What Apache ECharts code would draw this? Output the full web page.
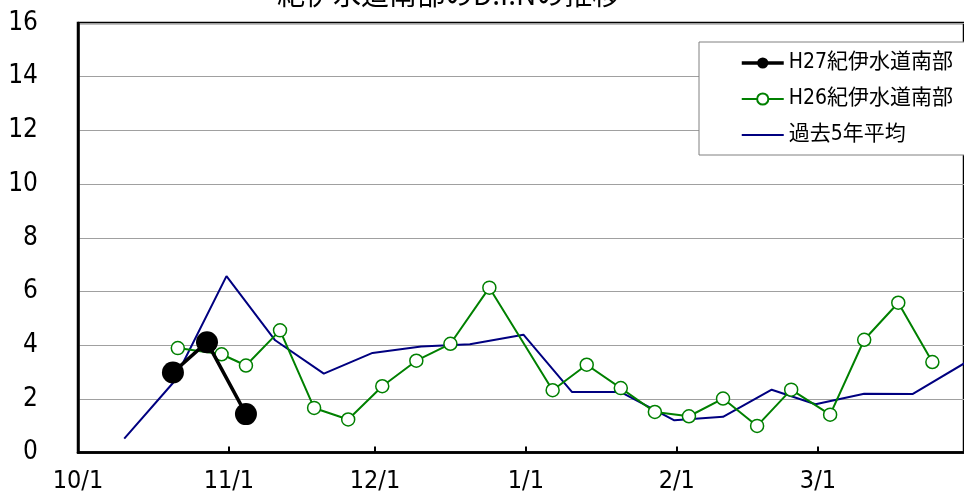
<!DOCTYPE html>
<html>
<head>
<meta charset="utf-8">
<script src="https://cdn.jsdelivr.net/npm/echarts@6/dist/echarts.min.js"></script>
<style>
  html, body { margin: 0; padding: 0; background: #fff; }
  #chart { width: 964px; height: 496px; }
</style>
</head>
<body>
<div id="chart"></div>
<script>
// ---- data (month/day, plotted on the Oct 2015 – Mar 2016 season axis) ----
const titleText = '紀伊水道南部のD.I.Nの推移';
const seriesNames = ['H27紀伊水道南部', 'H26紀伊水道南部', '過去5年平均'];

const h27Dates = ['10/20', '10/27', '11/4'];
const h27Values = [2.98, 4.11, 1.43];

const h26Dates = ['10/21', '10/30', '11/4', '11/11', '11/18', '11/25', '12/2', '12/9', '12/16', '12/24',
  '1/6', '1/13', '1/20', '1/27', '2/3', '2/10', '2/17', '2/24', '3/3', '3/10', '3/17', '3/24'];
const h26Values = [3.89, 3.66, 3.24, 4.55, 1.66, 1.23, 2.47, 3.42, 4.05, 6.14,
  2.32, 3.27, 2.40, 1.51, 1.35, 2.01, 0.99, 2.34, 1.41, 4.20, 5.58, 3.37];

const avgDates = ['10/10', '10/20', '10/31', '11/10', '11/20', '11/30', '12/10', '12/20', '12/31',
  '1/10', '1/20', '1/31', '2/10', '2/20', '2/29', '3/10', '3/20', '3/31'];
const avgValues = [0.52, 2.59, 6.57, 4.18, 2.94, 3.71, 3.95, 4.03, 4.39,
  2.25, 2.25, 1.20, 1.33, 2.34, 1.80, 2.19, 2.18, 3.37];

const axisStart = '10/1';
const axisEnd = '3/31';
const yTicks = [0, 2, 4, 6, 8, 10, 12, 14, 16];

// ---- helpers ----
// season axis: Oct–Dec in 2015, Jan–Mar in 2016; points centred in their day (like a date axis)
function toTime(md, half) {
  const [m, d] = md.split('/').map(Number);
  const y = m >= 10 ? 2015 : 2016;
  return new Date(y, m - 1, d, half ? 12 : 0).getTime();
}
function pairs(dates, vals) {
  return dates.map((d, i) => [toTime(d, true), vals[i]]);
}

const numFont = "'DejaVu Sans Condensed', 'Noto Sans CJK JP', sans-serif";
const jpFont = "'DejaVu Sans Condensed', 'Noto Sans CJK JP', sans-serif";

const chart = echarts.init(document.getElementById('chart'), null, { renderer: 'canvas' });
chart.setOption({
  animation: false,
  backgroundColor: '#fff',
  title: {
    text: titleText,
    left: 277,
    top: -20,
    padding: 0,
    textStyle: { fontFamily: "'Noto Sans CJK JP', sans-serif", fontSize: 28, fontWeight: 'normal', color: '#000' }
  },
  grid: {
    left: 78, right: 0, top: 23, bottom: 43.5,
    show: true, borderColor: '#000', borderWidth: 2.5, backgroundColor: 'transparent'
  },
  legend: {
    data: [
      { name: seriesNames[0], lineStyle: { width: 3.5, color: '#000' } },
      { name: seriesNames[1], lineStyle: { width: 2, color: '#008000' } },
      { name: seriesNames[2], icon: 'path://M0,0 L42,0 L42,2 L0,2 Z', itemStyle: { color: '#000080' } }
    ],
    orient: 'vertical',
    left: 699,
    top: 42,
    padding: [10, 30, 9, 41],
    itemWidth: 42,
    itemHeight: 14,
    itemGap: 14,
    backgroundColor: '#fff',
    borderColor: '#808080',
    borderWidth: 1,
    borderRadius: 0,
    textStyle: { fontFamily: jpFont, fontSize: 21, lineHeight: 22, color: '#000' }
  },
  xAxis: {
    type: 'time',
    min: toTime(axisStart, false),
    max: toTime(axisEnd, false),
    splitNumber: 6,
    minInterval: 28 * 86400000,
    maxInterval: 31 * 86400000,
    axisLine: { show: true, lineStyle: { color: '#000', width: 2.5 } },
    axisTick: { show: true, inside: true, length: 6, lineStyle: { color: '#000', width: 2 } },
    splitLine: { show: false },
    axisLabel: {
      margin: 16,
      fontFamily: numFont,
      fontSize: 25,
      color: '#000',
      hideOverlap: false,
      formatter: function (v) {
        const dt = new Date(v);
        return (dt.getMonth() + 1) + '/' + dt.getDate();
      }
    }
  },
  yAxis: {
    type: 'value',
    min: yTicks[0],
    max: yTicks[yTicks.length - 1],
    interval: 2,
    axisLine: { show: true, lineStyle: { color: '#000', width: 2.5 } },
    axisTick: { show: false },
    splitLine: { show: true, lineStyle: { color: '#a0a0a0', width: 1 } },
    axisLabel: { margin: 40, fontFamily: numFont, fontSize: 26, color: '#000' }
  },
  series: [
    {
      name: seriesNames[2],
      type: 'line',
      data: pairs(avgDates, avgValues),
      symbol: 'none',
      lineStyle: { color: '#000080', width: 2 },
      itemStyle: { color: '#000080' },
      z: 2
    },
    {
      name: seriesNames[1],
      type: 'line',
      data: pairs(h26Dates, h26Values),
      symbol: 'circle',
      symbolSize: 13,
      showAllSymbol: true,
      lineStyle: { color: '#008000', width: 2 },
      itemStyle: { color: '#fff', borderColor: '#008000', borderWidth: 1.5 },
      z: 3
    },
    {
      name: seriesNames[0],
      type: 'line',
      data: pairs(h27Dates, h27Values),
      symbol: 'circle',
      symbolSize: 22,
      lineStyle: { color: '#000', width: 3.5 },
      itemStyle: { color: '#000' },
      z: 4
    }
  ]
});
</script>
</body>
</html>
